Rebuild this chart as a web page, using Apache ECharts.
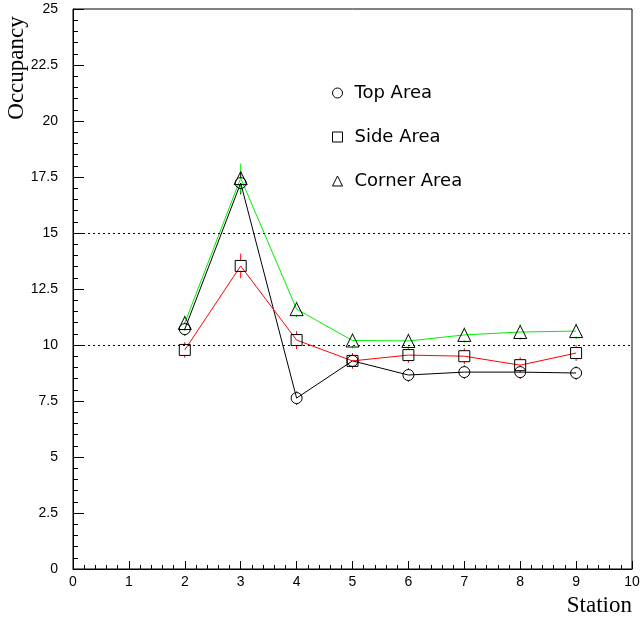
<!DOCTYPE html>
<html><head><meta charset="utf-8">
<script src="https://cdn.jsdelivr.net/npm/echarts@6/dist/echarts.min.js"></script>
<style>html,body{margin:0;padding:0;background:#fff}#c{width:644px;height:622px}</style>
</head><body><div id="c"></div>
<script>
const stations = [2, 3, 4, 5, 6, 7, 8, 9];
const topArea = [10.71, 17.23, 7.63, 9.29, 8.66, 8.79, 8.79, 8.75];
const sideArea = [9.78, 13.53, 10.22, 9.29, 9.55, 9.50, 9.10, 9.64];
const cornerArea = [10.98, 17.45, 11.60, 10.20, 10.18, 10.45, 10.58, 10.62];
const topErr = [0.3, 0.5, 0.3, 0.3, 0.3, 0.3, 0.3, 0.3];
const sideErr = [0.35, 0.55, 0.4, 0.35, 0.35, 0.35, 0.35, 0.35];
const cornerErr = [0.35, 0.65, 0.35, 0.35, 0.35, 0.35, 0.35, 0.35];
const refLines = [10, 15];
const seriesNames = ['Top Area', 'Side Area', 'Corner Area'];

const chart = echarts.init(document.getElementById('c'));
const pairs = arr => stations.map((s, i) => [s, arr[i]]);
const font = 'Liberation Sans, DejaVu Sans, sans-serif';
function mk(name, data, color, symbol, withLines) {
  const s = {
    name, type: 'line', data: pairs(data), symbol, symbolSize: symbol === 'triangle' ? 13 : 11,
    lineStyle: { color, width: 1 },
    itemStyle: { color: 'rgba(0,0,0,0)', borderColor: '#000', borderWidth: 1 },
    emphasis: { disabled: true }, z: 3
  };
  if (withLines) {
    s.markLine = {
      silent: true, symbol: 'none', label: { show: false },
      lineStyle: { color: '#000', type: [2, 3], width: 1.2 },
      data: refLines.map(v => ({ yAxis: v }))
    };
  }
  return s;
}
function errBars(vals, errs, color) {
  return {
    type: 'custom', silent: true, z: 2,
    data: stations.map((s, i) => [s, vals[i], vals[i] - errs[i], vals[i] + errs[i]]),
    renderItem: (params, api) => {
      const c = api.coord([api.value(0), api.value(1)]);
      const lo = api.coord([api.value(0), api.value(2)]);
      const hi = api.coord([api.value(0), api.value(3)]);
      const gap = 5.5;
      const st = { stroke: color, lineWidth: 1 };
      const children = [];
      if (lo[1] > c[1] + gap) children.push({ type: 'line', shape: { x1: c[0], y1: c[1] + gap, x2: lo[0], y2: lo[1] }, style: st });
      if (hi[1] < c[1] - gap) children.push({ type: 'line', shape: { x1: c[0], y1: c[1] - gap, x2: hi[0], y2: hi[1] }, style: st });
      return { type: 'group', children };
    }
  };
}
chart.setOption({
  animation: false,
  backgroundColor: '#fff',
  grid: { left: 73, right: 12, top: 9, bottom: 53, show: true, borderColor: '#000', borderWidth: 1 },
  legend: {
    orient: 'vertical', left: 327, top: 79, itemGap: 26, itemWidth: 10, itemHeight: 10,
    textStyle: { fontFamily: 'DejaVu Sans, sans-serif', fontSize: 18, color: '#000', padding: [0, 0, 0, 7] },
    data: [
      { name: seriesNames[0], icon: 'circle', itemStyle: { color: 'rgba(0,0,0,0)', borderColor: '#000', borderWidth: 1 } },
      { name: seriesNames[1], icon: 'rect', itemStyle: { color: 'rgba(0,0,0,0)', borderColor: '#000', borderWidth: 1 } },
      { name: seriesNames[2], icon: 'triangle', itemStyle: { color: 'rgba(0,0,0,0)', borderColor: '#000', borderWidth: 1 } }
    ]
  },
  xAxis: {
    type: 'value', min: 0, max: 10, interval: 1,
    axisLine: { onZero: false, lineStyle: { color: '#000' } },
    axisTick: { inside: true, length: 8, lineStyle: { color: '#000' } },
    minorTick: { show: true, splitNumber: 5, length: 4, lineStyle: { color: '#000' } },
    splitLine: { show: false },
    axisLabel: { color: '#000', fontFamily: font, fontSize: 14, margin: 6 }
  },
  yAxis: {
    type: 'value', min: 0, max: 25, interval: 2.5,
    axisLine: { show: true, onZero: false, lineStyle: { color: '#000' } },
    axisTick: { show: true, inside: true, length: 11, lineStyle: { color: '#000' } },
    minorTick: { show: true, splitNumber: 5, length: 5, lineStyle: { color: '#000' } },
    splitLine: { show: false },
    axisLabel: { color: '#000', fontFamily: font, fontSize: 14, margin: 15 }
  },
  graphic: [
    { type: 'text', x: 17, y: 68, rotation: Math.PI / 2,
      style: { text: 'Occupancy', font: '23px "Liberation Serif", "DejaVu Serif", serif', fill: '#000', align: 'center', verticalAlign: 'middle' } },
    { type: 'text', x: 632, y: 606,
      style: { text: 'Station', font: '23px "Liberation Serif", "DejaVu Serif", serif', fill: '#000', align: 'right', verticalAlign: 'middle' } }
  ],
  series: [
    errBars(topArea, topErr, '#000'),
    errBars(sideArea, sideErr, '#ff0000'),
    errBars(cornerArea, cornerErr, '#00ee00'),
    mk(seriesNames[0], topArea, '#000', 'circle', true),
    mk(seriesNames[1], sideArea, '#ff0000', 'rect', false),
    mk(seriesNames[2], cornerArea, '#00ee00', 'triangle', false)
  ]
});
</script></body></html>
